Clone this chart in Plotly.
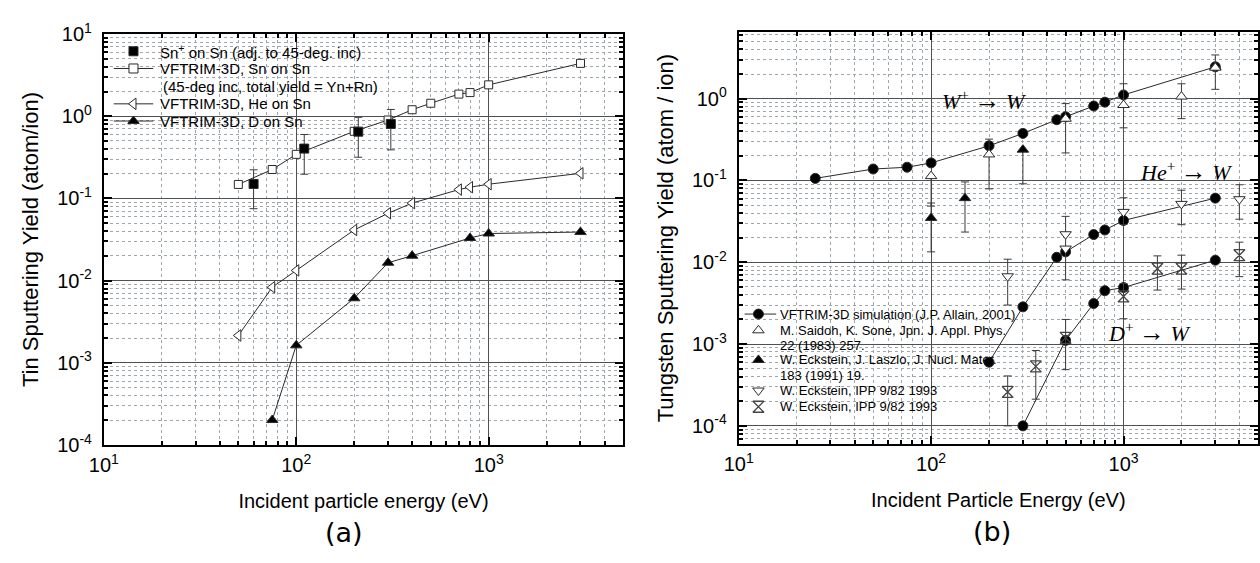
import math
import plotly.graph_objects as go

FONT = "Liberation Sans, Arial, sans-serif"
SERIF = "Liberation Serif, Times New Roman, serif"

# ---------------- Panel (a): Tin ----------------
sn_exp_E = [60, 110, 210, 310]
sn_exp_Y = [0.150, 0.404, 0.65, 0.806]
sn_exp_hi = [0.223, 0.60, 0.97, 1.21]
sn_exp_lo = [0.075, 0.197, 0.317, 0.39]

sn_sim_E = [50, 75, 100, 200, 300, 400, 500, 700, 800, 1000, 3000]
sn_sim_Y = [0.148, 0.225, 0.344, 0.656, 0.90, 1.20, 1.44, 1.86, 1.94, 2.41, 4.40]

he_sn_E = [50, 75, 100, 200, 300, 400, 700, 800, 1000, 3000]
he_sn_Y = [0.00215, 0.0083, 0.0133, 0.0413, 0.066, 0.0877, 0.128, 0.137, 0.149, 0.202]

d_sn_E = [75, 100, 200, 300, 400, 800, 1000, 3000]
d_sn_Y = [0.000201, 0.00163, 0.0061, 0.0165, 0.0201, 0.033, 0.0374, 0.039]

# ---------------- Panel (b): Tungsten ----------------
w_sim_E = [25, 50, 75, 100, 200, 300, 450, 500, 700, 800, 1000, 3000]
w_sim_Y = [0.106, 0.138, 0.145, 0.164, 0.265, 0.376, 0.553, 0.60, 0.813, 0.906, 1.11, 2.45]

he_w_E = [200, 300, 450, 500, 700, 800, 1000, 3000]
he_w_Y = [0.0006, 0.00285, 0.0115, 0.0134, 0.0218, 0.0248, 0.0324, 0.0608]

d_w_E = [300, 500, 700, 800, 1000, 3000]
d_w_Y = [1.0e-4, 0.00111, 0.00313, 0.00449, 0.00491, 0.0106]

saidoh_E = [100, 200, 500, 1000, 2000, 3000]
saidoh_Y = [0.113, 0.208, 0.568, 0.836, 1.06, 2.39]
saidoh_hi = [0.113, 0.32, 0.87, 1.52, 1.52, 3.42]
saidoh_lo = [0.0486, 0.079, 0.217, 0.44, 0.57, 1.30]

laszlo_E = [100, 150, 300, 3000]
laszlo_Y = [0.0348, 0.0608, 0.238, 2.45]
laszlo_hi = [0.053, 0.096, 0.238, 2.45]
laszlo_lo = [0.0134, 0.0234, 0.091, 2.45]

ipp_he_E = [250, 500, 500, 1000, 2000, 4000]
ipp_he_Y = [0.00674, 0.022, 0.0147, 0.0413, 0.0517, 0.059]
ipp_he_hi = [0.0109, 0.0364, 0.022, 0.0614, 0.076, 0.0886]
ipp_he_lo = [0.003, 0.022, 0.0061, 0.029, 0.0288, 0.0336]

ipp_d_E = [250, 350, 500, 1000, 1500, 2000, 4000]
ipp_d_Y = [2.6e-4, 5.34e-4, 0.00119, 0.00382, 0.00835, 0.00835, 0.0122]
ipp_d_hi = [4.08e-4, 8.35e-4, 0.002, 0.0055, 0.01197, 0.0122, 0.0176]
ipp_d_lo = [1.0e-4, 2.12e-4, 4.87e-4, 0.00204, 0.00457, 0.0047, 0.00667]

# ---------------- Axis ranges (eV and yield) ----------------
xa_range = [10, 5000]
xb_range = [10, 5000]
ya_range = [1e-4, 10]
yb_range = [6.0e-5, 6.5]

# ---------------- Tick labels ----------------
x_tickvals = [10, 100, 1000]
x_ticktext = ["10<sup>1</sup>", "10<sup>2</sup>", "10<sup>3</sup>"]
ya_tickvals = [10, 1, 0.1, 0.01, 0.001, 0.0001]
ya_ticktext = ["10<sup>1</sup>", "10<sup>0</sup>", "10<sup>-1</sup>",
               "10<sup>-2</sup>", "10<sup>-3</sup>", "10<sup>-4</sup>"]
yb_tickvals = [1, 0.1, 0.01, 0.001, 0.0001]
yb_ticktext = ["10<sup>0</sup>", "10<sup>-1</sup>", "10<sup>-2</sup>",
               "10<sup>-3</sup>", "10<sup>-4</sup>"]

# ---------------- Legend texts ----------------
leg_a_texts = ["Sn<sup>+</sup> on Sn (adj. to 45-deg. inc)",
               "VFTRIM-3D, Sn on Sn",
               "(45-deg inc, total yield = Yn+Rn)",
               "VFTRIM-3D, He on Sn",
               "VFTRIM-3D, D on Sn"]
leg_b_texts = ["VFTRIM-3D simulation (J.P. Allain, 2001)",
               "M. Saidoh, K. Sone, Jpn. J. Appl. Phys.",
               "22 (1983) 257.",
               "W. Eckstein, J. Laszlo, J. Nucl. Mater.",
               "183 (1991) 19.",
               "W. Eckstein, IPP 9/82 1993",
               "W. Eckstein, IPP 9/82 1993"]
ARROW = "\u00a0<span style='font-size:26px'>\u2192</span>\u00a0"
reaction_labels = ["<i>W</i><sup>+</sup>" + ARROW + "<i>W</i>",
                   "<i>He</i><sup>+</sup>" + ARROW + "<i>W</i>",
                   "<i>D</i><sup>+</sup>" + ARROW + "<i>W</i>"]

# ---------------- Styling ----------------
LINEC = "#2a2a2a"
ERRC = "#3a3a3a"
W, H = 1260, 563


def err(y, hi, lo):
    return dict(type="data", symmetric=False,
                array=[h - v for h, v in zip(hi, y)],
                arrayminus=[v - l for v, l in zip(y, lo)],
                color=ERRC, thickness=1, width=4)


def mk(symbol, size, fill):
    return dict(symbol=symbol, size=size, color=fill, line=dict(color=LINEC, width=1))


XMARK = dict(symbol="hourglass-open", size=11, color="#444", line=dict(width=1.3))

fig = go.Figure()

# Panel (a)
fig.add_trace(go.Scatter(x=sn_sim_E, y=sn_sim_Y, mode="lines+markers", xaxis="x", yaxis="y",
                         line=dict(color=LINEC, width=1), marker=mk("square", 8, "white")))
fig.add_trace(go.Scatter(x=he_sn_E, y=he_sn_Y, mode="lines+markers", xaxis="x", yaxis="y",
                         line=dict(color=LINEC, width=1), marker=mk("triangle-left", 10, "white")))
fig.add_trace(go.Scatter(x=d_sn_E, y=d_sn_Y, mode="lines+markers", xaxis="x", yaxis="y",
                         line=dict(color=LINEC, width=1), marker=mk("triangle-up", 10, "black")))
fig.add_trace(go.Scatter(x=sn_exp_E, y=sn_exp_Y, mode="markers", xaxis="x", yaxis="y",
                         marker=mk("square", 9, "black"), error_y=err(sn_exp_Y, sn_exp_hi, sn_exp_lo)))

# Panel (b)
for E, Y in [(w_sim_E, w_sim_Y), (he_w_E, he_w_Y), (d_w_E, d_w_Y)]:
    fig.add_trace(go.Scatter(x=E, y=Y, mode="lines+markers", xaxis="x2", yaxis="y2",
                             line=dict(color=LINEC, width=1), marker=mk("circle", 10, "black")))
fig.add_trace(go.Scatter(x=laszlo_E, y=laszlo_Y, mode="markers", xaxis="x2", yaxis="y2",
                         marker=mk("triangle-up", 10, "black"), error_y=err(laszlo_Y, laszlo_hi, laszlo_lo)))
fig.add_trace(go.Scatter(x=saidoh_E, y=saidoh_Y, mode="markers", xaxis="x2", yaxis="y2",
                         marker=mk("triangle-up", 10, "white"), error_y=err(saidoh_Y, saidoh_hi, saidoh_lo)))
fig.add_trace(go.Scatter(x=ipp_he_E, y=ipp_he_Y, mode="markers", xaxis="x2", yaxis="y2",
                         marker=mk("triangle-down", 10, "white"), error_y=err(ipp_he_Y, ipp_he_hi, ipp_he_lo)))
fig.add_trace(go.Scatter(x=ipp_d_E, y=ipp_d_Y, mode="markers", xaxis="x2", yaxis="y2",
                         marker=XMARK, error_y=err(ipp_d_Y, ipp_d_hi, ipp_d_lo)))

# ---------------- Legends (drawn on a pixel-space overlay) ----------------
leg_a_rows = [  # (y px, symbol, fill, with line, text x)
    (39, "square", "black", False, 145),
    (57, "square", "white", True, 145),
    (76, None, None, False, 148),
    (94, "triangle-left", "white", True, 145),
    (112, "triangle-up", "black", True, 145),
]
for (yy, sym, fill, withline, tx), txt in zip(leg_a_rows, leg_a_texts):
    if withline:
        fig.add_trace(go.Scatter(x=[100, 140], y=[yy, yy], mode="lines", xaxis="x3", yaxis="y3",
                                 line=dict(color=LINEC, width=1), hoverinfo="skip"))
    if sym:
        fig.add_trace(go.Scatter(x=[120], y=[yy], mode="markers", xaxis="x3", yaxis="y3",
                                 marker=mk(sym, 9 if sym == "square" else 10, fill), hoverinfo="skip"))
    fig.add_annotation(x=tx, y=yy, xref="x3", yref="y3", text=txt, showarrow=False,
                       xanchor="left", yanchor="middle", font=dict(size=15, family=FONT, color="black"))

leg_b_rows = [
    (314, "circle", "black", True),
    (331, "triangle-up", "white", False),
    (347, None, None, False),
    (362, "triangle-up", "black", False),
    (378, None, None, False),
    (394, "triangle-down", "white", False),
    (411, "hourglass-open", "#444", False),
]
for (yy, sym, fill, withline), txt in zip(leg_b_rows, leg_b_texts):
    if withline:
        fig.add_trace(go.Scatter(x=[739, 771], y=[yy, yy], mode="lines", xaxis="x3", yaxis="y3",
                                 line=dict(color=LINEC, width=1), hoverinfo="skip"))
    if sym:
        m = XMARK if sym == "hourglass-open" else mk(sym, 10, fill)
        fig.add_trace(go.Scatter(x=[753], y=[yy], mode="markers", xaxis="x3", yaxis="y3",
                                 marker=m, hoverinfo="skip"))
    fig.add_annotation(x=773, y=yy, xref="x3", yref="y3", text=txt, showarrow=False,
                       xanchor="left", yanchor="middle", font=dict(size=13, family=FONT, color="black"))

# Reaction labels in panel (b)
for (cx, cy), txt in zip([(981, 90), (1186, 165), (1149, 333)], reaction_labels):
    fig.add_annotation(x=cx, y=cy, xref="x3", yref="y3", text=txt, showarrow=False,
                       xanchor="center", yanchor="middle", font=dict(size=22, family=SERIF, color="black"))

# Panel tags
for (cx, cy), txt in zip([(333, 543), (990, 542)], ["(a)", "(b)"]):
    fig.add_annotation(x=cx, y=cy, xref="x3", yref="y3", text=txt, showarrow=False,
                       xanchor="center", yanchor="middle", font=dict(size=27, family="DejaVu Sans", color="black"))

x_minor = [m * 10 ** e for e in range(1, 4) for m in range(2, 10)]
y_minor = [m * 10.0 ** e for e in range(-5, 2) for m in range(2, 10)]


def lg(r):
    return [math.log10(r[0]), math.log10(r[1])]


def log_axis(domain, rng, tv, tt, minor, title, anchor, standoff, lstand, tsize):
    return dict(type="log", domain=domain, range=lg(rng), anchor=anchor,
                tickmode="array", tickvals=tv, ticktext=tt,
                ticks="inside", ticklen=8, tickwidth=1.5, tickcolor="black",
                showline=True, linewidth=2, linecolor="black", mirror="allticks",
                showgrid=True, gridcolor="#505050", gridwidth=1.2, zeroline=False,
                tickfont=dict(size=20, family=FONT, color="black"), ticklabelstandoff=lstand,
                title=dict(text=title, font=dict(size=tsize, family=FONT, color="black"), standoff=standoff),
                minor=dict(tickvals=minor, ticks="inside", ticklen=4, tickcolor="black",
                           showgrid=True, gridcolor="#9ea6ae", griddash="dot", gridwidth=1))


fig.update_layout(
    width=W, height=H, margin=dict(l=0, r=0, t=0, b=0),
    paper_bgcolor="white", plot_bgcolor="rgba(0,0,0,0)", showlegend=False,
    font=dict(family=FONT, color="black"),
    xaxis=log_axis([90 / W, 616 / W], xa_range, x_tickvals, x_ticktext, x_minor,
                   "Incident particle energy (eV)", "y", 19, 1, 20),
    yaxis=log_axis([1 - 451 / H, 1 - 21 / H], ya_range, ya_tickvals, ya_ticktext, y_minor,
                   "Tin Sputtering Yield (atom/ion)", "x", 12, 6, 22),
    xaxis2=log_axis([733 / W, 1259 / W], xb_range, x_tickvals, x_ticktext, x_minor,
                    "Incident Particle Energy (eV)", "y2", 19, 1, 20),
    yaxis2=log_axis([1 - 450 / H, 1 - 19 / H], yb_range, yb_tickvals, yb_ticktext, y_minor,
                    "Tungsten Sputtering Yield (atom / ion)", "x2", 12, 6, 22),
    xaxis3=dict(domain=[0, 1], range=[0, W], visible=False, anchor="y3", fixedrange=True),
    yaxis3=dict(domain=[0, 1], range=[H, 0], visible=False, anchor="x3", fixedrange=True),
)

fig.write_html("out.html")
